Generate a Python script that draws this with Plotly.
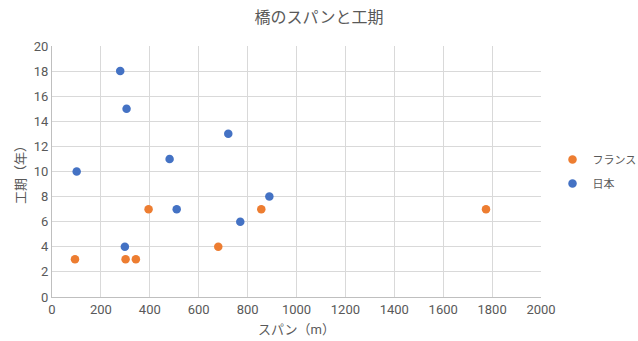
import plotly.graph_objects as go

# Bridge span (m) and construction period (years)
france_span = [94, 301, 343, 395, 680, 856, 1775]
france_years = [3, 3, 3, 7, 4, 7, 7]

japan_span = [279, 305, 721, 481, 101, 889, 510, 770, 298]
japan_years = [18, 15, 13, 11, 10, 8, 7, 6, 4]

x_ticks = list(range(0, 2001, 200))
y_ticks = list(range(0, 21, 2))

FONT = "Roboto, Noto Sans CJK JP, sans-serif"
GREY = "#595959"

fig = go.Figure()
fig.add_trace(go.Scatter(
    x=france_span, y=france_years, mode="markers", name="フランス",
    legendgroup="fr", marker=dict(color="#ED7D31", size=8.5),
))
fig.add_trace(go.Scatter(
    x=japan_span, y=japan_years, mode="markers", name="日本",
    legendgroup="jp", marker=dict(color="#4472C4", size=8.5),
))

fig.update_layout(
    width=638, height=341,
    margin=dict(l=52, r=97, t=46, b=44, autoexpand=False),
    paper_bgcolor="white", plot_bgcolor="white",
    font=dict(family=FONT, color=GREY, size=13),
    title=dict(text="橋のスパンと工期", x=0.5, xanchor="center",
               y=0.95, yanchor="middle", font=dict(size=16, color=GREY)),
    legend=dict(xref="container", yref="container", x=0.866, y=0.497,
                xanchor="left", yanchor="middle", traceorder="grouped",
                font=dict(size=11, color=GREY), itemwidth=30,
                tracegroupgap=5),
    showlegend=True,
)
fig.update_xaxes(
    range=[0, 2000], tickvals=x_ticks, showgrid=True, gridcolor="#d9d9d9",
    zeroline=False, showline=True, linecolor="#bfbfbf", mirror=False,
    ticks="", tickfont=dict(size=13, color=GREY), automargin=False,
    title=dict(text="スパン（m）", font=dict(size=13, color=GREY), standoff=9),
)
fig.update_yaxes(
    range=[0, 20], tickvals=y_ticks, showgrid=True, gridcolor="#d9d9d9",
    zeroline=False, showline=True, linecolor="#bfbfbf",
    ticks="", tickfont=dict(size=13, color=GREY), automargin=False,
    title=dict(text="工期（年）", font=dict(size=13, color=GREY), standoff=5),
)

fig.write_html("out.html")
